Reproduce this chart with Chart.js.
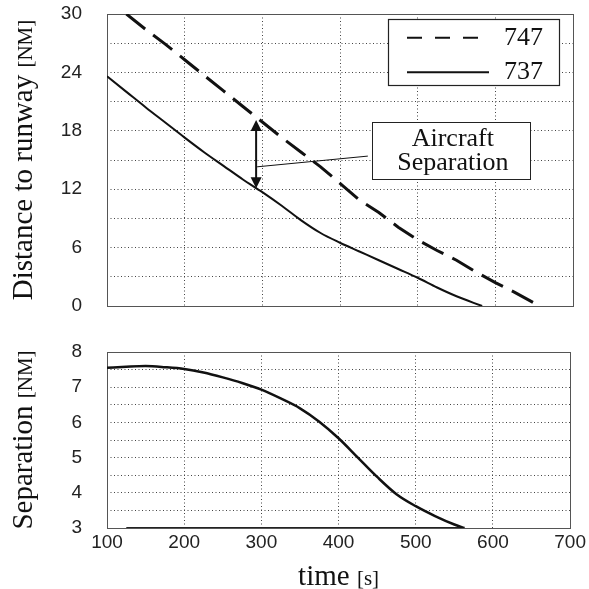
<!DOCTYPE html>
<html>
<head>
<meta charset="utf-8">
<script src="https://cdn.jsdelivr.net/npm/chart.js@4.4.0/dist/chart.umd.min.js"></script>
<style>
  body { margin: 0; background: #fff; }
  #wrap { position: relative; width: 589px; height: 589px; }
  canvas { position: absolute; left: 0; }
  #top { top: 0; }
  #bottom { top: 330px; }
</style>
</head>
<body>
<div id="wrap">
  <canvas id="top" width="589" height="330"></canvas>
  <canvas id="bottom" width="589" height="259"></canvas>
</div>
<script>
// values
const time747 = [125, 150, 175, 200, 225, 250, 275, 300, 325, 350, 375, 400, 425, 450, 475, 500, 525, 550, 575, 600, 625, 657];
const dist747 = [30, 28.4, 26.9, 25.3, 23.7, 22.1, 20.5, 18.9, 17.3, 15.8, 14.3, 12.6, 10.9, 9.6, 8.1, 6.8, 5.7, 4.7, 3.5, 2.4, 1.4, 0];

const time737 = [100, 125, 150, 175, 200, 225, 250, 275, 300, 325, 350, 375, 400, 425, 450, 475, 500, 525, 550, 583];
const dist737 = [23.6, 22.0, 20.4, 18.85, 17.3, 15.8, 14.4, 13.0, 11.7, 10.3, 8.8, 7.5, 6.5, 5.6, 4.7, 3.8, 2.9, 1.9, 1.0, 0];

const timeSep = [100, 125, 150, 175, 200, 225, 250, 275, 300, 325, 350, 375, 400, 425, 450, 475, 500, 525, 550, 563];
const separation = [7.55, 7.58, 7.6, 7.57, 7.52, 7.42, 7.28, 7.12, 6.93, 6.68, 6.4, 6.02, 5.55, 5.0, 4.45, 3.96, 3.62, 3.34, 3.1, 3.0];

const minSepTime = [125, 563];
const minSep = [3, 3];

const timeTicks = [100, 200, 300, 400, 500, 600, 700];
const distLabels = [0, 6, 12, 18, 24, 30];
const sepLabels = [3, 4, 5, 6, 7, 8];

const tickFont = { family: 'Liberation Sans', size: 19 };
const pts = (xs, ys) => xs.map((x, i) => ({ x: x, y: ys[i] }));

function xScale(showLabels, h) {
  return {
    type: 'linear', min: 100, max: 700,
    afterFit: s => { s.height = h; },
    afterBuildTicks: s => { s.ticks = timeTicks.map(v => ({ value: v })); },
    ticks: { display: showLabels, padding: 3, color: '#222', font: tickFont, maxRotation: 0, autoSkip: false },
    grid: { color: '#444', lineWidth: 1, drawTicks: false },
    border: { display: false, dash: [1, 2.5] }
  };
}

function yScale(min, max, step, labels) {
  return {
    min: min, max: max,
    // fixed width, and no extra room reserved for the label padding
    afterFit: s => { s.width = 107; s.paddingTop = 10; s.paddingBottom = 10; },
    ticks: {
      stepSize: step, padding: 25, color: '#222', font: tickFont, autoSkip: false,
      callback: v => labels.includes(v) ? String(v) : ''
    },
    grid: { color: '#444', lineWidth: 1, drawTicks: false },
    border: { display: false, dash: [1, 2.5] }
  };
}

// text in two sizes, like "Distance to runway [NM]"
function splitText(ctx, x, y, rotate, main, small) {
  ctx.save();
  ctx.translate(x, y);
  if (rotate) ctx.rotate(-Math.PI / 2);
  const big = '29px "Liberation Serif"', sm = '21px "Liberation Serif"';
  ctx.font = big; const w1 = ctx.measureText(main).width;
  ctx.font = sm; const w2 = ctx.measureText(small).width;
  const start = -(w1 + w2) / 2;
  ctx.fillStyle = '#111';
  ctx.textAlign = 'left';
  ctx.textBaseline = 'alphabetic';
  ctx.font = big; ctx.fillText(main, start, 0);
  ctx.font = sm; ctx.fillText(small, start + w1, 0);
  ctx.restore();
}

const frame = {
  id: 'frame',
  beforeDatasetsDraw(chart) {
    const { ctx, chartArea: a } = chart;
    ctx.save();
    ctx.strokeStyle = '#555';
    ctx.lineWidth = 1;
    ctx.strokeRect(Math.round(a.left) + 0.5, Math.round(a.top) + 0.5, Math.round(a.right - a.left), Math.round(a.bottom - a.top));
    ctx.restore();
  },
  afterDraw(chart, args, opts) {
    const a = chart.chartArea;
    if (opts.yTitle) splitText(chart.ctx, 32, (a.top + a.bottom) / 2, true, opts.yTitle[0], opts.yTitle[1]);
    if (opts.xTitle) splitText(chart.ctx, (a.left + a.right) / 2, 255, false, opts.xTitle[0], opts.xTitle[1]);
  }
};

const boxLegend = {
  id: 'boxLegend',
  afterDatasetsDraw(chart) {
    const { ctx, chartArea: a } = chart;
    const w = 171, h = 66;
    const left = a.right - 14 - w, top = a.top + 5;
    ctx.save();
    ctx.fillStyle = '#fff';
    ctx.fillRect(left, top, w, h);
    ctx.strokeStyle = '#222';
    ctx.lineWidth = 1.2;
    ctx.strokeRect(left + 0.5, top + 0.5, w, h);
    chart.data.datasets.forEach((ds, i) => {
      const y = top + 18.7 + i * 34.6;
      ctx.beginPath();
      ctx.setLineDash(ds.borderDash ? [15, 13] : []);
      ctx.lineWidth = 2;
      ctx.strokeStyle = ds.borderColor;
      ctx.moveTo(left + 19, y);
      ctx.lineTo(left + 101, y);
      ctx.stroke();
      ctx.setLineDash([]);
      ctx.fillStyle = '#111';
      ctx.font = '26px "Liberation Serif"';
      ctx.textAlign = 'left';
      ctx.textBaseline = 'alphabetic';
      ctx.fillText(ds.label, left + 116, y + 7);
    });
    ctx.restore();
  }
};

// arrow between the two aircraft plus the labelled box
const sepNote = { t: 292, from: 19.1, to: 12.1, leadFrom: 14.3, leadTo: 15.4, boxT: 441, boxV: 18.9 };
const noteLines = ['Aircraft', 'Separation'];

const arrowNote = {
  id: 'arrowNote',
  afterDatasetsDraw(chart) {
    const { ctx, scales: { x, y } } = chart;
    const ax = x.getPixelForValue(sepNote.t);
    const y1 = y.getPixelForValue(sepNote.from), y2 = y.getPixelForValue(sepNote.to);
    ctx.save();
    ctx.strokeStyle = '#111';
    ctx.fillStyle = '#111';
    ctx.lineWidth = 2;
    ctx.beginPath();
    ctx.moveTo(ax, y1 + 8); ctx.lineTo(ax, y2 - 8); ctx.stroke();
    [[y1, 1], [y2, -1]].forEach(([py, d]) => {
      ctx.beginPath();
      ctx.moveTo(ax, py);
      ctx.lineTo(ax - 5.5, py + d * 11);
      ctx.lineTo(ax + 5.5, py + d * 11);
      ctx.closePath();
      ctx.fill();
    });

    const bl = x.getPixelForValue(sepNote.boxT), bt = y.getPixelForValue(sepNote.boxV);
    const bw = 158, bh = 57;
    ctx.lineWidth = 1;
    ctx.beginPath();
    ctx.moveTo(ax + 1, y.getPixelForValue(sepNote.leadFrom));
    ctx.lineTo(bl - 4, y.getPixelForValue(sepNote.leadTo));
    ctx.stroke();

    ctx.fillStyle = '#fff';
    ctx.fillRect(bl, bt, bw, bh);
    ctx.strokeStyle = '#222';
    ctx.strokeRect(Math.round(bl) + 0.5, Math.round(bt) + 0.5, bw, bh);
    ctx.fillStyle = '#111';
    ctx.font = '26px "Liberation Serif"';
    ctx.textAlign = 'center';
    ctx.textBaseline = 'alphabetic';
    noteLines.forEach((s, i) => ctx.fillText(s, bl + bw / 2 + 2, bt + 23.5 + i * 24.5));
    ctx.restore();
  }
};

new Chart(document.getElementById('top'), {
  type: 'line',
  data: {
    datasets: [
      { label: '747', data: pts(time747, dist747), borderColor: '#111', borderWidth: 3, borderDash: [24, 10], pointRadius: 0, tension: 0 },
      { label: '737', data: pts(time737, dist737), borderColor: '#111', borderWidth: 2, pointRadius: 0, cubicInterpolationMode: 'monotone' }
    ]
  },
  options: {
    responsive: false, animation: false, devicePixelRatio: 1,
    layout: { padding: { top: 14, right: 16, left: 0, bottom: 0 } },
    plugins: {
      legend: { display: false }, tooltip: { enabled: false },
      frame: { yTitle: ['Distance to runway ', '[NM]'] }
    },
    scales: { x: xScale(false, 24), y: yScale(0, 30, 3, distLabels) }
  },
  plugins: [frame, boxLegend, arrowNote]
});

new Chart(document.getElementById('bottom'), {
  type: 'line',
  data: {
    datasets: [
      { label: 'Separation', data: pts(timeSep, separation), borderColor: '#111', borderWidth: 2.5, pointRadius: 0, cubicInterpolationMode: 'monotone' },
      { label: 'Minimum', data: pts(minSepTime, minSep), borderColor: '#222', borderWidth: 2, pointRadius: 0 }
    ]
  },
  options: {
    responsive: false, animation: false, devicePixelRatio: 1,
    layout: { padding: { top: 22, right: 16, left: 0, bottom: 0 } },
    plugins: {
      legend: { display: false }, tooltip: { enabled: false },
      frame: { yTitle: ['Separation ', '[NM]'], xTitle: ['time ', '[s]'] }
    },
    scales: { x: xScale(true, 61), y: yScale(3, 8, 0.5, sepLabels) }
  },
  plugins: [frame]
});
</script>
</body>
</html>
